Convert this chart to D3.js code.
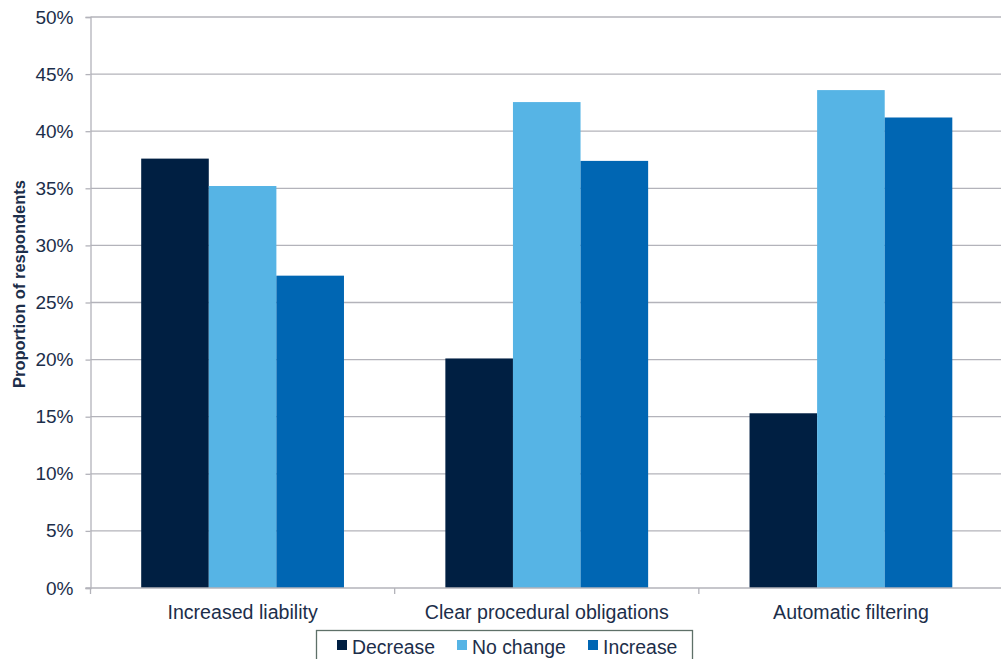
<!DOCTYPE html>
<html><head><meta charset="utf-8">
<script src="https://cdn.jsdelivr.net/npm/d3@7"></script>
<style>body{margin:0;background:#fff}svg{display:block}</style>
</head><body>
<svg id="c" width="1001" height="659"></svg>
<script>
const categories = ["Increased liability", "Clear procedural obligations", "Automatic filtering"];
const seriesNames = ["Decrease", "No change", "Increase"];
const decrease = [37.6, 20.1, 15.3];
const noChange = [35.2, 42.55, 43.6];
const increase = [27.35, 37.4, 41.2];
const yTicks = [0, 5, 10, 15, 20, 25, 30, 35, 40, 45, 50];
const colors = ["#001F42", "#56B4E5", "#0066B3"];

const svg = d3.select("#c");
const L = 90.5, R = 1003, T = 17, B = 588;
const textColor = "#1C2E4A";
const font = "Liberation Sans, Arial, sans-serif";

const x0 = d3.scaleBand().domain(categories).range([L, R]).paddingInner(0).paddingOuter(0);
const x1 = d3.scaleBand().domain(seriesNames).range([0, x0.bandwidth()]).paddingInner(0).paddingOuter(0.75);
const y = d3.scaleLinear().domain([0, 50]).range([B, T]);

// gridlines
svg.append("g").selectAll("line").data(yTicks.filter(d => d > 0)).join("line")
  .attr("x1", L).attr("x2", 1001).attr("y1", d => y(d)).attr("y2", d => y(d))
  .attr("stroke", "#B3B3BA").attr("stroke-width", 1.3);

// y axis
const yAxis = svg.append("g").attr("transform", `translate(${L},0)`)
  .call(d3.axisLeft(y).tickValues(yTicks).tickFormat(d => d + "%").tickSize(5).tickPadding(12));
yAxis.select(".domain").attr("stroke", "#B3B3BA").attr("stroke-width", 1.3);
yAxis.selectAll(".tick line").attr("stroke", "#B3B3BA").attr("stroke-width", 1.3);
yAxis.selectAll("text").attr("fill", textColor).style("font-family", font).style("font-size", "19px");

// bars
const data = categories.map((c, i) => ({c, vals: [decrease[i], noChange[i], increase[i]]}));
const groups = svg.append("g").selectAll("g").data(data).join("g")
  .attr("transform", d => `translate(${x0(d.c)},0)`);
groups.selectAll("rect").data(d => d.vals.map((v, j) => ({s: seriesNames[j], v, j}))).join("rect")
  .attr("x", d => x1(d.s)).attr("width", x1.bandwidth())
  .attr("y", d => y(d.v)).attr("height", d => y(0) - y(d.v))
  .attr("fill", d => colors[d.j]);

// x axis
const xAxis = svg.append("g").attr("transform", `translate(0,${B})`)
  .call(d3.axisBottom(x0).tickSize(0).tickPadding(17));
xAxis.select(".domain").remove();
xAxis.selectAll("text").attr("fill", textColor).style("font-family", font).style("font-size", "19.6px");
svg.append("line").attr("x1", L - 5).attr("x2", 1001).attr("y1", B).attr("y2", B)
  .attr("stroke", "#B3B3BA").attr("stroke-width", 1.3);
svg.append("g").selectAll("line").data(categories).join("line")
  .attr("x1", d => x0(d)).attr("x2", d => x0(d)).attr("y1", B).attr("y2", B + 6)
  .attr("stroke", "#B3B3BA").attr("stroke-width", 1.3);

// y title
svg.append("text").attr("transform", "translate(25,284) rotate(-90)")
  .attr("text-anchor", "middle").attr("fill", textColor)
  .style("font-family", font).style("font-size", "16.5px").style("font-weight", "bold")
  .text("Proportion of respondents");

// legend
const lg = svg.append("g");
lg.append("rect").attr("x", 316.5).attr("y", 630.5).attr("width", 376).attr("height", 40)
  .attr("fill", "#fff").attr("stroke", "#5E7068").attr("stroke-width", 1.3);
const legX = [337, 457, 588];
const items = lg.selectAll("g").data(seriesNames).join("g")
  .attr("transform", (d, i) => `translate(${legX[i]},0)`);
items.append("rect").attr("x", 0).attr("y", 640).attr("width", 10).attr("height", 10)
  .attr("fill", (d, i) => colors[i]);
items.append("text").attr("x", 15).attr("y", 654).attr("fill", textColor)
  .style("font-family", font).style("font-size", "19.4px").text(d => d);
</script>
</body></html>
